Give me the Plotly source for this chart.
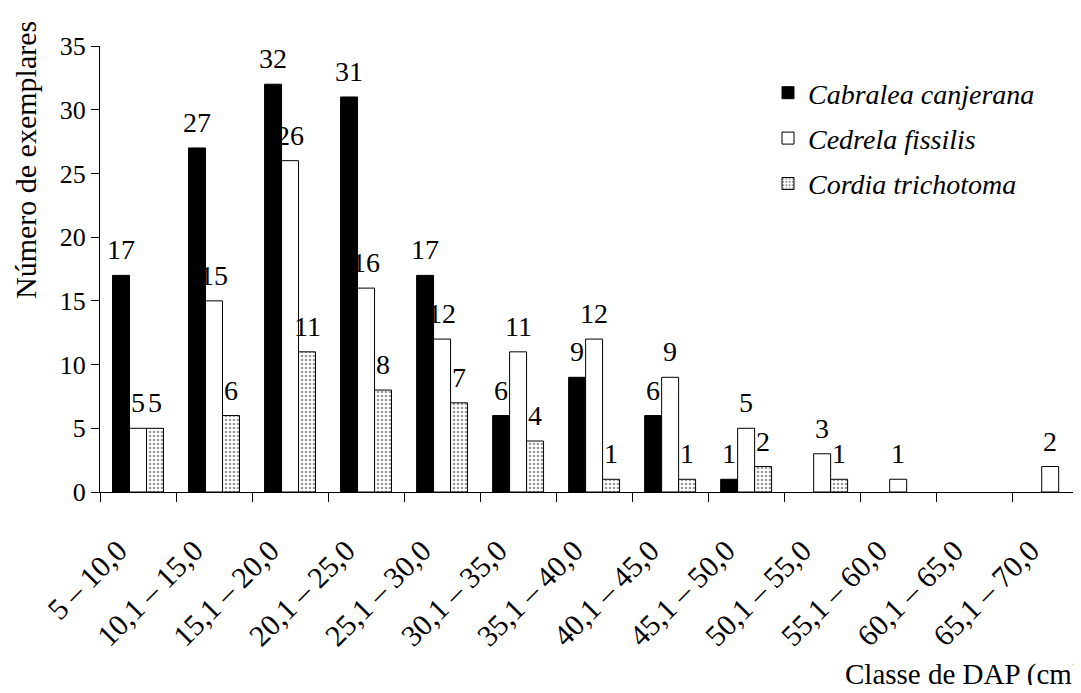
import plotly.graph_objects as go

classes = ["5 – 10,0", "10,1 – 15,0", "15,1 – 20,0", "20,1 – 25,0", "25,1 – 30,0",
           "30,1 – 35,0", "35,1 – 40,0", "40,1 – 45,0", "45,1 – 50,0", "50,1 – 55,0",
           "55,1 – 60,0", "60,1 – 65,0", "65,1 – 70,0"]
cabralea = [17, 27, 32, 31, 17, 6, 9, 6, 1, 0, 0, 0, 0]
cedrela = [5, 15, 26, 16, 12, 11, 12, 9, 5, 3, 1, 0, 2]
cordia = [5, 6, 11, 8, 7, 4, 1, 1, 2, 1, 0, 0, 0]
names = ["Cabralea canjerana", "Cedrela fissilis", "Cordia trichotoma"]

FONT = "Liberation Serif"
BARGAP = 0.33
PW, PH = 973, 446
XRANGE = [-0.5, 12.30]
LABEL_SHIFT = 0.26  # tick labels sit slightly left of the category centre


def nz(vals):
    return [v if v else None for v in vals]


fig = go.Figure()
fig.add_trace(go.Bar(x=classes, y=nz(cabralea), name=names[0], legendgroup="a",
                     marker=dict(color="black", line=dict(color="black", width=1))))
fig.add_trace(go.Bar(x=classes, y=nz(cedrela), name=names[1], legendgroup="b",
                     marker=dict(color="white", line=dict(color="black", width=1))))
fig.add_trace(go.Bar(x=classes, y=nz(cordia), name=names[2], legendgroup="c",
                     marker=dict(color="white", line=dict(color="black", width=1),
                                 pattern=dict(shape=".", fgcolor="#333333", bgcolor="white",
                                              size=4, solidity=0.35))))
# empty helper trace so the label axis is drawn
fig.add_trace(go.Scatter(x=[], y=[], xaxis="x2", showlegend=False, hoverinfo="skip"))

bw = (1 - BARGAP) / 3
ann = []
for k, series in enumerate([cabralea, cedrela, cordia]):
    for i, v in enumerate(series):
        if v:
            ann.append(dict(x=i + (k - 1) * bw, y=v, xref="x", yref="y",
                            text=str(v), showarrow=False, yanchor="bottom",
                            yshift=8, font=dict(family=FONT, size=28, color="black")))

ann.append(dict(x=(25 - 100) / PW, y=(492 - 160) / PH, xref="paper", yref="paper",
                text="Número de exemplares", showarrow=False, textangle=-90,
                xanchor="center", yanchor="middle",
                font=dict(family=FONT, size=30, color="black")))
ann.append(dict(x=(843 - 100) / PW, y=(492 - 693) / PH, xref="paper", yref="paper",
                text="Classe de DAP (cm)", showarrow=False, xanchor="left", yanchor="bottom",
                font=dict(family=FONT, size=29, color="black")))

fig.update_layout(
    width=1065, height=677,
    margin=dict(l=92, r=0, t=38, b=193, autoexpand=False),
    paper_bgcolor="white", plot_bgcolor="white",
    barmode="group", bargap=BARGAP, bargroupgap=0,
    font=dict(family=FONT, size=26, color="black"),
    showlegend=True,
    legend=dict(x=(768 - 100) / PW, y=(492 - 68) / PH, xanchor="left", yanchor="top",
                font=dict(family=FONT, size=28, color="black", style="italic"),
                tracegroupgap=6, bgcolor="rgba(0,0,0,0)"),
    annotations=ann,
    xaxis=dict(range=XRANGE, showline=True, linecolor="black", linewidth=1,
               ticks="outside", tickson="boundaries", ticklen=9, tickcolor="black",
               showticklabels=False, showgrid=False, automargin=False),
    xaxis2=dict(overlaying="x", anchor="y", side="bottom", type="linear", range=XRANGE,
                tickmode="array", tickvals=[i - LABEL_SHIFT for i in range(len(classes))],
                ticktext=classes, ticks="", showline=False, showgrid=False, zeroline=False,
                tickangle=-45, ticklabelstandoff=34, automargin=False,
                tickfont=dict(family=FONT, size=30, color="black")),
    yaxis=dict(range=[0, 35], dtick=5, showline=True, linecolor="black", linewidth=1,
               ticks="outside", ticklen=8, tickcolor="black", showgrid=False,
               zeroline=False, automargin=False,
               tickfont=dict(family=FONT, size=26, color="black")),
)

fig.write_html("out.html")
